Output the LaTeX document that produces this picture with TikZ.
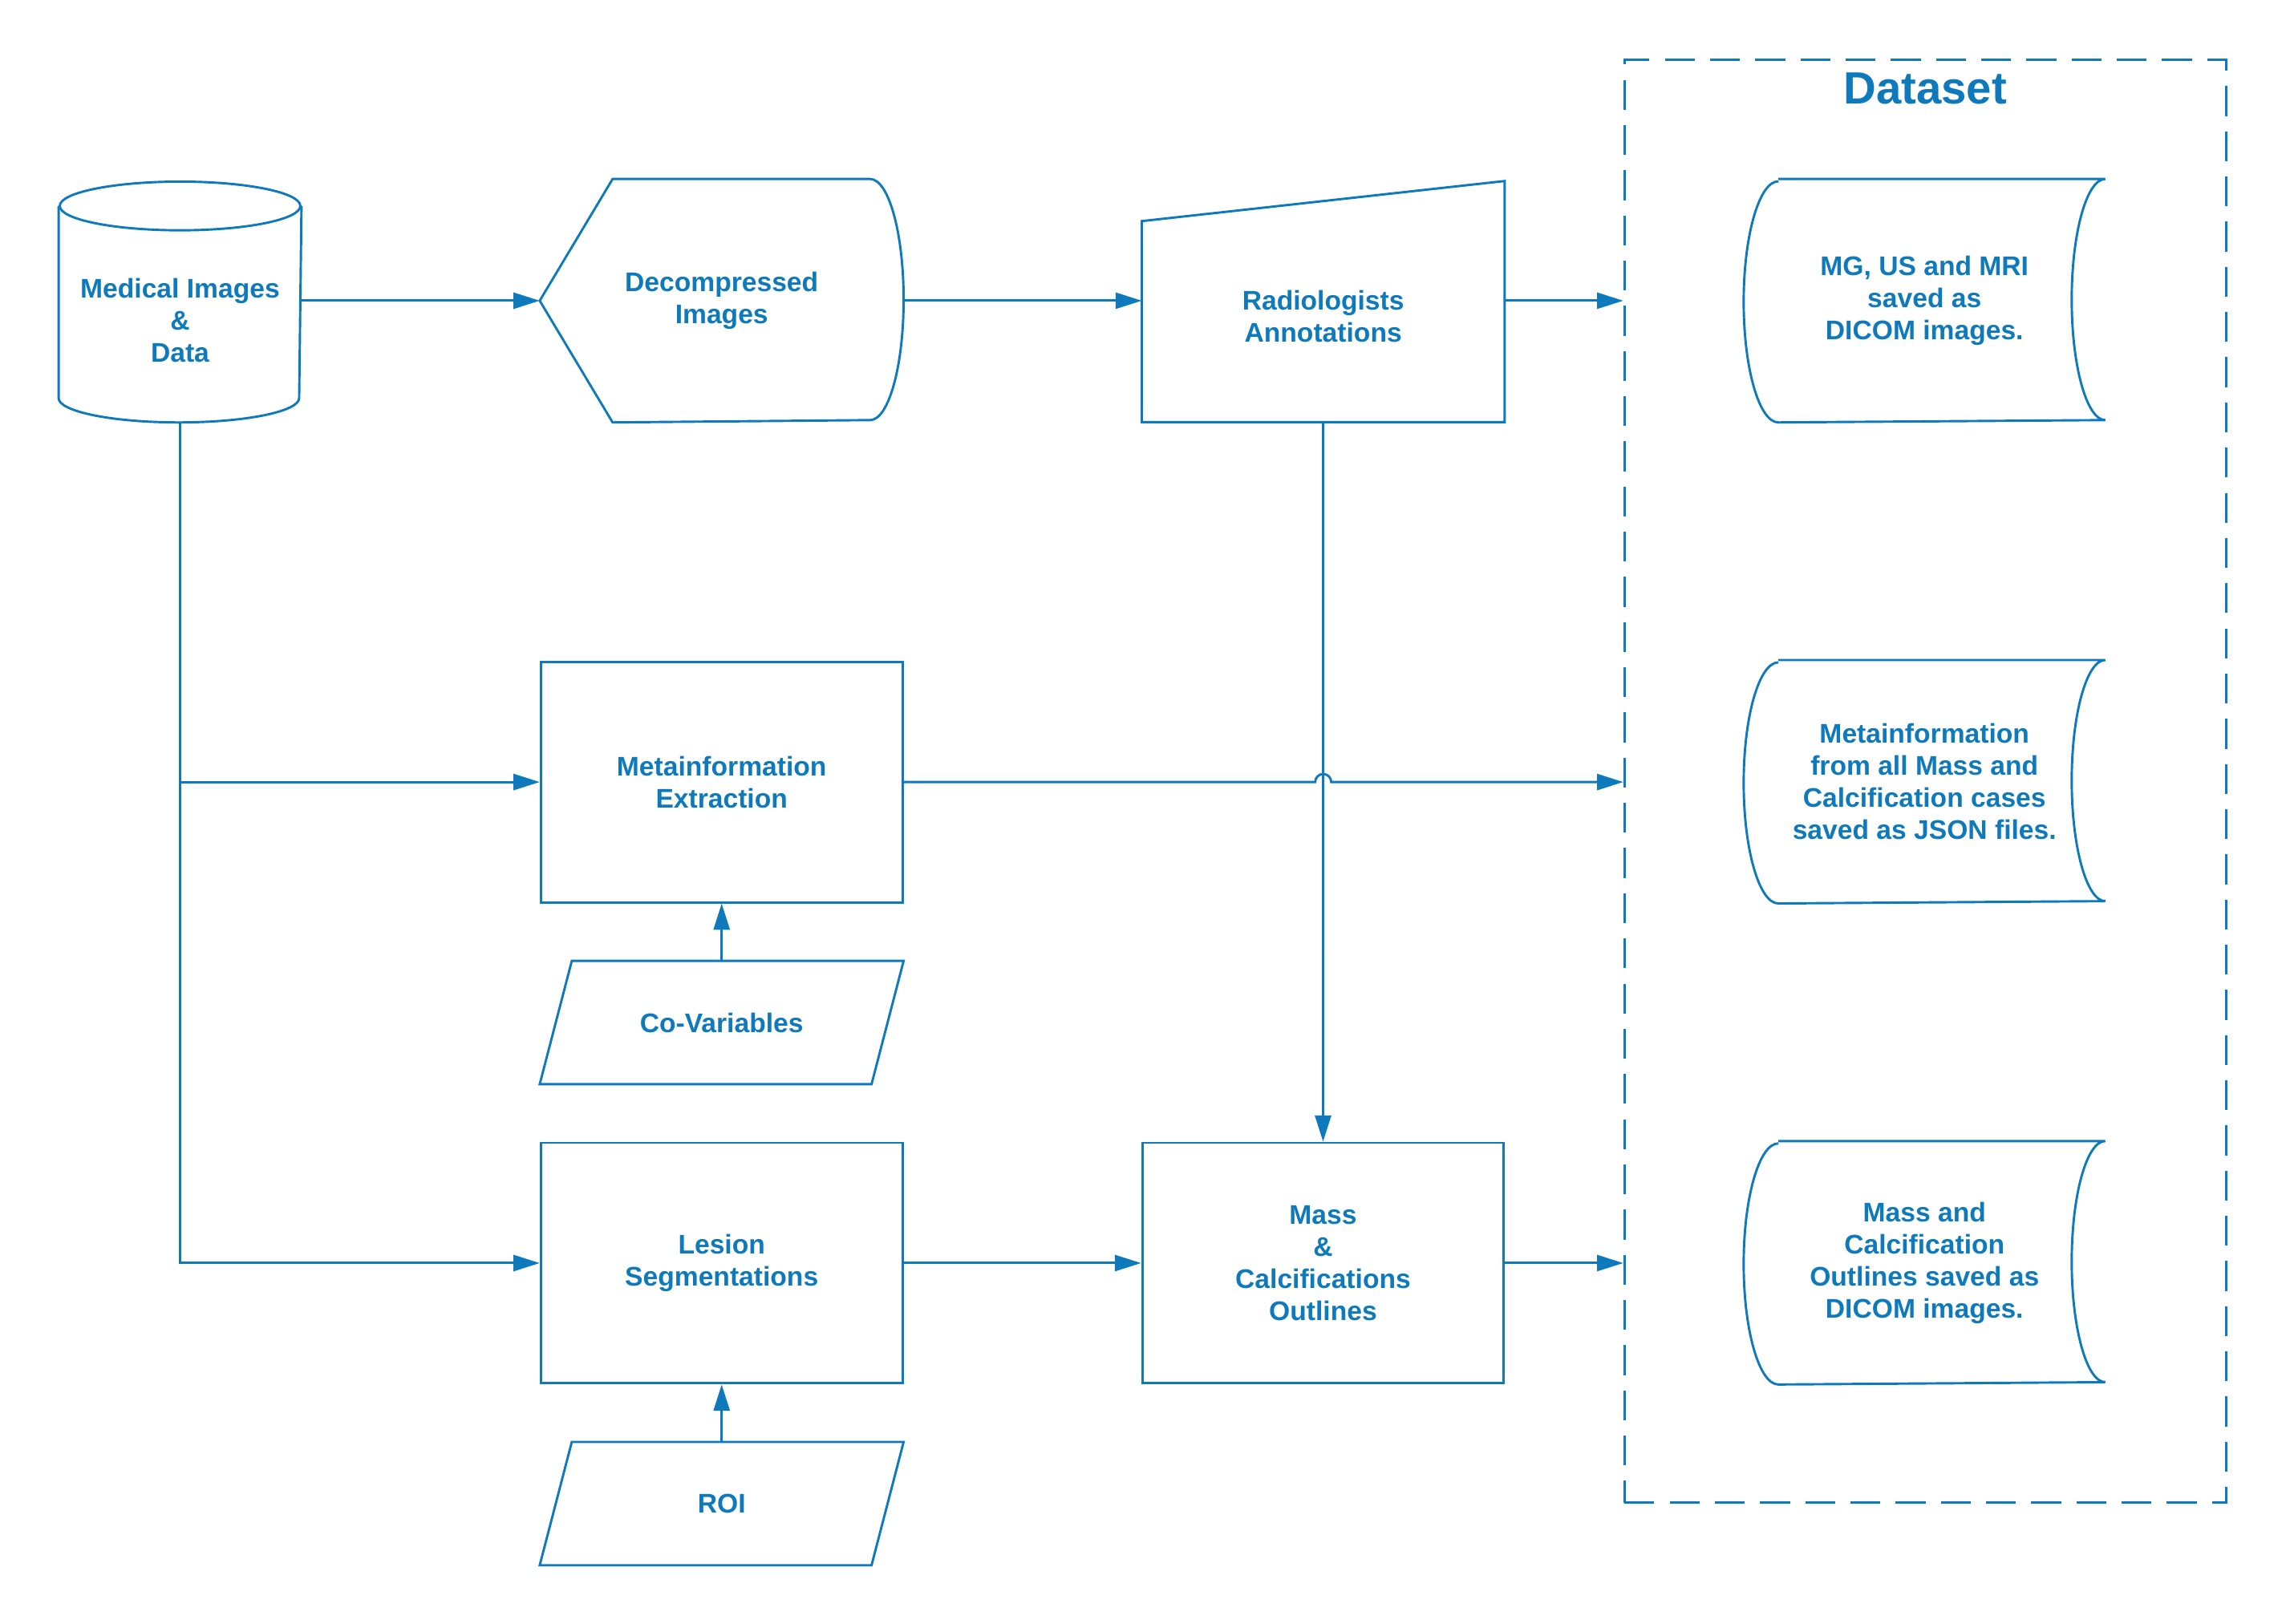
\documentclass[tikz,border=0pt]{standalone}
\usepackage{fontspec}
\setmainfont{Liberation Sans}
\usetikzlibrary{arrows.meta,positioning}
\definecolor{flow}{HTML}{0F7ABB}

\begin{document}
\begin{tikzpicture}[x=1pt, y=1pt, node distance=165pt, line width=1.6pt, draw=flow,
        main/.style = {minimum width=248, minimum height=165, inner sep=0pt, align=center, text=flow,
                       font=\fontsize{18.5}{22}\selectfont\bfseries},
        box/.style = {main, draw=flow},
        store/.style = {main, minimum width=246.4, minimum height=165.4},
        dataset/.style = {draw=flow, dash pattern=on 20.5pt off 10.5pt, minimum width=412.6, minimum height=990},
        title/.style = {text=flow, font=\fontsize{31}{36}\selectfont\bfseries},
        arr/.style = {draw=flow, -{Triangle[length=18pt, width=11pt]}}]
        \useasboundingbox (0,0) rectangle (1568,1114);
        \node[main, minimum width=165, minimum height=138] (db) at (123.5,894) {Medical Images\\\&\\Data};
        \node[main, minimum height=165.4] (dec) at (495,907.7) {Decompressed\\Images};
        \node[main, minimum width=247.3, minimum height=143.6] (ann) at (907.6,897) {Radiologists\\Annotations};
        \node[box] (meta) at (495,577.5) {Metainformation\\Extraction};
        \node[main, minimum height=83] (covar) [below of=meta] {Co-Variables};
        \node[box] (lesion) [below of=covar] {Lesion\\Segmentations};
        \node[main, minimum height=83] (roi) [below of=lesion] {ROI};
        \node[box] (mass) [right of=lesion, node distance=412.5pt] {Mass\\\&\\Calcifications\\Outlines};
        \node[dataset] (set) at (1320.5,578) {};
        \node[title] (title) at (1320.5,1053) {Dataset};
        \node[store] (s1) at (1320,907.7) {MG, US and MRI\\saved as\\DICOM images.};
        \node[store] (s2) [below of=s1, node distance=330pt] {Metainformation\\from all Mass and\\Calcification cases\\saved as JSON files.};
        \node[store] (s3) [below of=s2, node distance=330pt] {Mass and\\Calcification\\Outlines saved as\\DICOM images.};

        % outlines
        \draw ([yshift=148.5]db.south) ellipse[x radius=82.5, y radius=16.7];
        \draw ([yshift=148.5]db.south west) -- ([yshift=16.7]db.south west)
              arc[start angle=180, end angle=360, x radius=82.5, y radius=16.7] -- ([yshift=148.5]db.south east);
        \draw (dec.west) -- ([xshift=50]dec.north west) -- ([xshift=-23]dec.north east)
              arc[start angle=90, end angle=-90, x radius=23, y radius=82.7] -- ([xshift=50]dec.south west) -- cycle;
        \draw (ann.south west) -- (ann.south east) -- ++(0,165.4) -- ([yshift=137.9]ann.south west) -- cycle;
        \foreach \n in {covar,roi}
            \draw ([xshift=22]\n.north west) -- (\n.north east) -- ([xshift=-22]\n.south east) -- (\n.south west) -- cycle;
        \foreach \n in {s1,s2,s3}
            \draw ([xshift=23.8]\n.north west) -- (\n.north east)
                  arc[start angle=90, end angle=270, x radius=23, y radius=82.7] -- ([xshift=23.8]\n.south west)
                  arc[start angle=270, end angle=90, x radius=23.8, y radius=82.7];

        % connectors
        \draw[arr] (db.east |- dec.west) -- (dec.west);
        \draw[arr] (dec.east) -- (dec.east -| ann.west);
        \draw[arr] (ann.east |- dec.east) -- (dec.east -| set.west);
        \draw[arr] (ann.south) -- (mass.north);
        \draw[arr] (db.south) |- (lesion.west);
        \draw[arr] (db.south |- meta.west) -- (meta.west);
        \draw[arr] (meta.east) -- ([xshift=-5.5]meta.east -| ann.south)
                   arc[start angle=180, end angle=0, radius=5.5] -- (meta.east -| set.west);
        \draw[arr] (covar.north) -- (meta.south);
        \draw[arr] (roi.north) -- (lesion.south);
        \draw[arr] (lesion.east) -- (mass.west);
        \draw[arr] (mass.east) -- (mass.east -| set.west);
    \end{tikzpicture}
\end{document}
